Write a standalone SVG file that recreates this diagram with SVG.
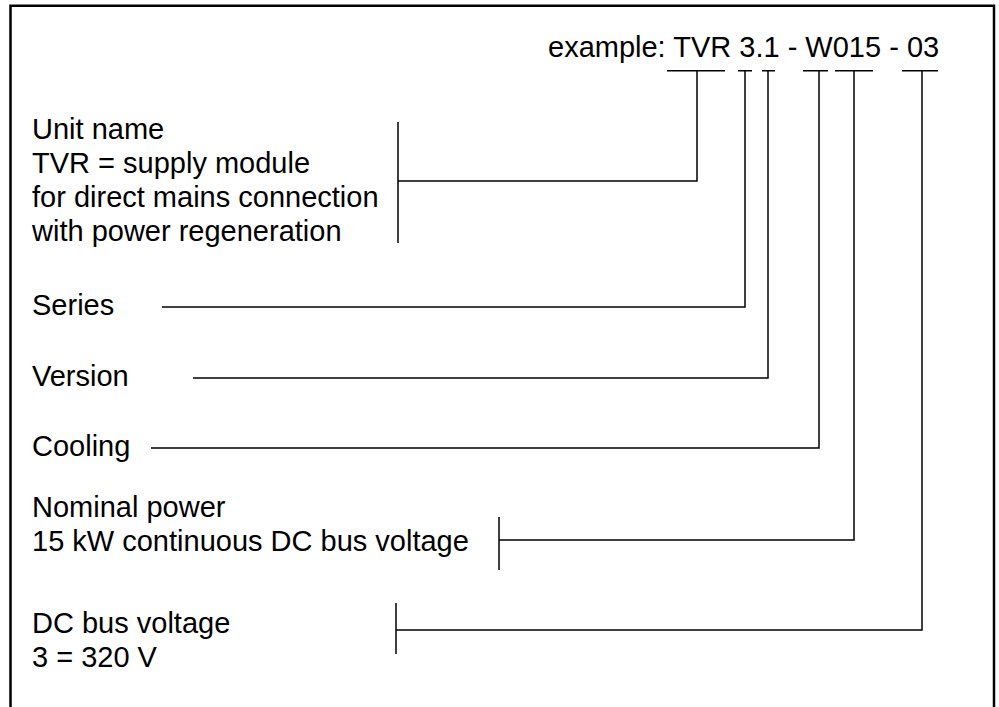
<svg xmlns="http://www.w3.org/2000/svg" width="999" height="707" viewBox="0 0 999 707">
<style>
text{font-family:"Liberation Sans",Arial,sans-serif;font-size:29px;fill:#000}
.ln{stroke:#000;stroke-width:1.5;fill:none}
.frame{stroke:#000;stroke-width:2.5;fill:none}
</style>
<rect width="999" height="707" fill="#fff"/>
<path class="frame" d="M10.5,708 V5.7 H994 V708"/>
<g id="example"><text x="548" y="57">example: TVR 3.1 - W015 - 03</text></g>
<g id="unit-name">
<text x="32" y="139">Unit name</text>
<text x="32" y="173">TVR = supply module</text>
<text x="32" y="207">for direct mains connection</text>
<text x="32" y="241">with power regeneration</text>
</g>
<g id="series"><text x="32" y="315">Series</text></g>
<g id="version"><text x="32" y="386">Version</text></g>
<g id="cooling"><text x="32" y="456">Cooling</text></g>
<g id="nominal-power">
<text x="32" y="517">Nominal power</text>
<text x="32" y="551">15 kW continuous DC bus voltage</text>
</g>
<g id="dc-bus">
<text x="32" y="633">DC bus voltage</text>
<text x="32" y="667">3 = 320 V</text>
</g>
<g id="connectors" class="ln">
<path d="M667,70.7 H725 M697,70.7 V181 H398 M398,122 V243"/>
<path d="M738,70.7 H752 M745,70.7 V307 H162"/>
<path d="M762,70.7 H775 M768,70.7 V378 H193"/>
<path d="M803,70.7 H828 M819,70.7 V448 H151"/>
<path d="M835,70.7 H873 M854,70.7 V540 H499 M499,517 V570"/>
<path d="M902,70.7 H938 M922,70.7 V630 H396 M396,603 V654"/>
</g>
</svg>
